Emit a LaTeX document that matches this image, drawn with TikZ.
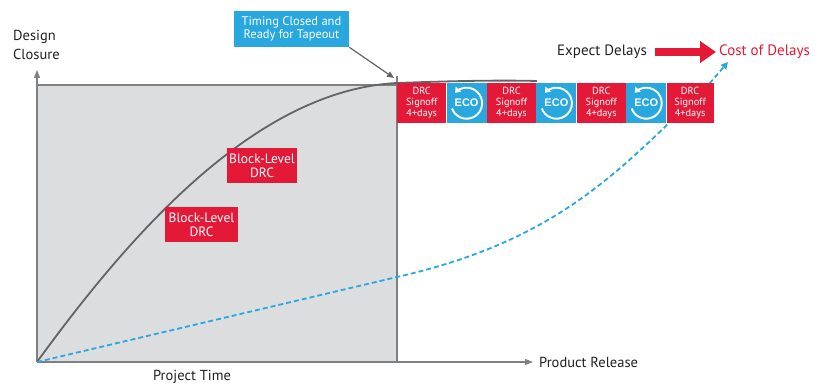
\documentclass[tikz,border=0pt]{standalone}
\usepackage{fontspec}
\setmainfont{PT Sans}
\newfontfamily\ecofont{Liberation Sans}
\usetikzlibrary{arrows.meta}
\definecolor{dred}{HTML}{E31937}
\definecolor{dblue}{HTML}{29A8E0}
\definecolor{rectgrey}{HTML}{DCDDDF}
\definecolor{axisgrey}{HTML}{808080}
\definecolor{curvegrey}{HTML}{636466}
\definecolor{txt}{HTML}{231F20}
\begin{document}
\begin{tikzpicture}[x=1pt,y=-1pt,
  lbl/.style={font=\fontsize{14.5}{19}\selectfont, text=txt, inner sep=0pt, align=center},
  redcell/.style={fill=dred, text=white, minimum height=40pt, inner sep=0pt, anchor=north west, align=center, font=\fontsize{10.3}{11}\selectfont},
  bluecell/.style={fill=dblue, text=white, minimum width=40pt, minimum height=40pt, inner sep=0pt, anchor=north west, font=\ecofont\bfseries\fontsize{11}{12}\selectfont},
  redbox/.style={fill=dred, text=white, inner sep=0pt, align=center, minimum height=35pt, font=\fontsize{13.5}{14}\selectfont},
  axis/.style={draw=axisgrey, line width=1.1pt, -{Triangle[width=6pt,length=8pt]}},
  ecoarc/.style={draw=white, line width=1.9pt, -{Triangle[width=7pt,length=5pt]}},
  bluedash/.style={draw=dblue, line width=1.8pt, dash pattern=on 5pt off 3pt, -{Triangle[width=7pt,length=7pt]}},
  curve/.style={draw=curvegrey, line width=1.8pt}
]
\useasboundingbox (0,0) rectangle (825,385);
% grey area
\fill[rectgrey] (37,85) rectangle (397,362);
\draw[axisgrey, line width=1.1pt] (37,85) -- (397,85);
\draw[axisgrey, line width=1.1pt] (397,362) -- (397,76);
% axes
\coordinate (O) at (37,362);
\coordinate (ytop) at (37,70);
\coordinate (xend) at (533,362);
\draw[axis] (O) -- (ytop);
\draw[axis] (O) -- (xend);
\node[lbl, anchor=west] (prod) at (539,362) {Product Release};
\node[lbl] (ptime) at (192,377) {Project Time};
\node[lbl, align=left, anchor=west] (design) at (13,45) {Design\\Closure};
% closure curve
\coordinate (c1) at (397,83);
\coordinate (c2) at (537,81);
\draw[curve] (O) .. controls (140,220) and (262,90) .. (c1) .. controls (450,81) and (500,80) .. (c2);
% blue dashed curve
\coordinate (d1) at (397,277);
\coordinate (d2) at (710,83);
\coordinate (dend) at (728,62);
\draw[bluedash] (O) -- (d1) .. controls (560,240) and (620,170) .. (d2) -- (dend);
% strip
\node[redcell, minimum width=49pt] (r1) at (397,83) {DRC\\Signoff\\4+days};
\node[bluecell] (b1) at (r1.north east) {ECO};
\node[redcell, minimum width=49pt] (r2) at (b1.north east) {DRC\\Signoff\\4+days};
\node[bluecell] (b2) at (r2.north east) {ECO};
\node[redcell, minimum width=49pt] (r3) at (b2.north east) {DRC\\Signoff\\4+days};
\node[bluecell] (b3) at (r3.north east) {ECO};
\node[redcell, minimum width=47pt] (r4) at (b3.north east) {DRC\\Signoff\\4+days};
\foreach \b in {b1,b2,b3}{
  \draw[ecoarc] ([shift={(160:15.5)}]\b.center) arc[start angle=160, end angle=-138, radius=15.5];
}
% block-level boxes
\node[redbox, minimum width=70pt] (bl1) at (262,165.5) {Block-Level\\DRC};
\node[redbox, minimum width=73pt] (bl2) at (201.5,224.5) {Block-Level\\DRC};
% timing box
\node[fill=dblue, text=white, inner sep=0pt, minimum width=115pt, minimum height=36pt, align=center, font=\fontsize{12.5}{12.5}\selectfont] (timing) at (291.5,29) {Timing Closed and\\Ready for Tapeout};
\coordinate (tip) at (394,78);
\draw[draw=curvegrey, line width=1.2pt, -{Triangle[width=6pt,length=7pt]}] (timing.south east) -- (tip);
% delays
\node[lbl, anchor=west, font=\fontsize{15}{16}\selectfont] (exp) at (557,52) {Expect Delays};
\node[lbl, anchor=west, text=dred, font=\fontsize{15}{16}\selectfont] (cost) at (719,52) {Cost of Delays};
\draw[draw=dred, line width=8pt, -{Triangle[width=21pt,length=16pt]}] ([xshift=8pt]exp.east) -- ([xshift=-3pt]cost.west);
\end{tikzpicture}
\end{document}
